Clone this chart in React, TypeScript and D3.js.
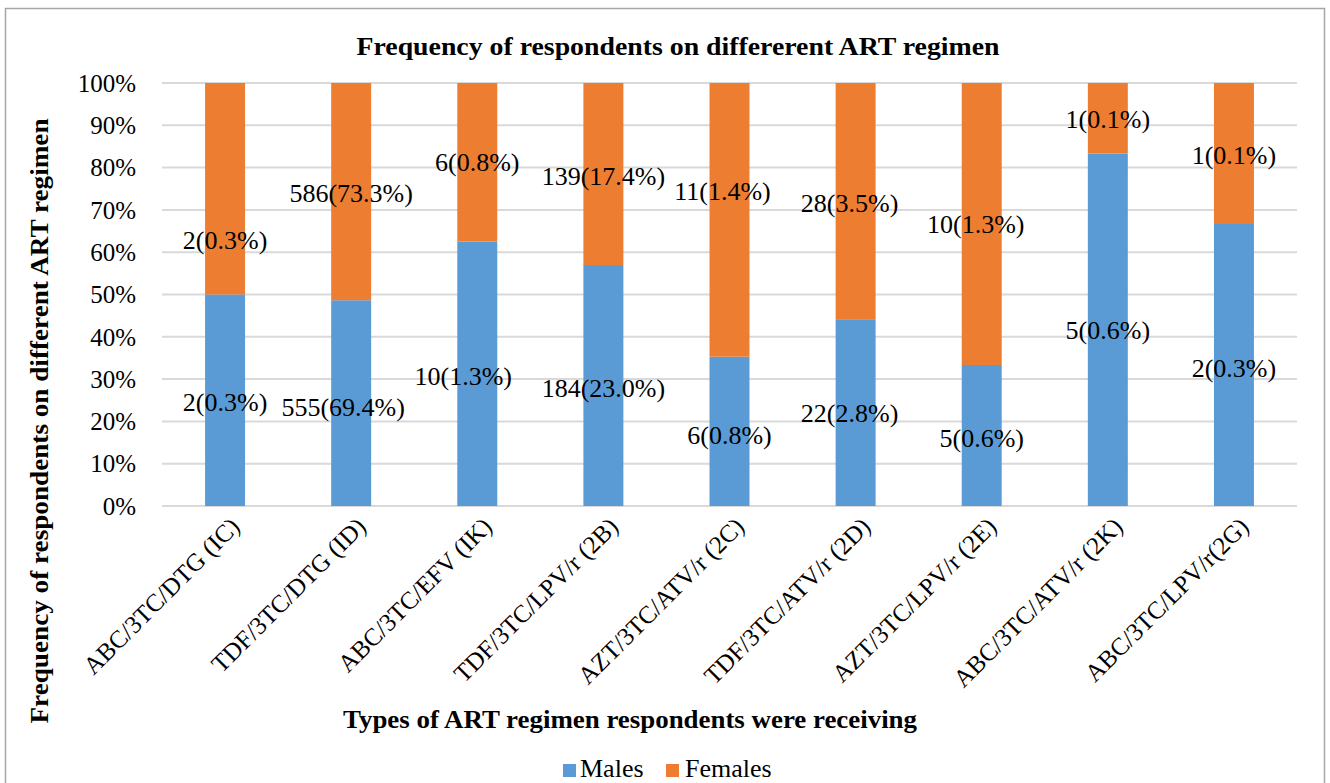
import React from "react";
import * as d3 from "d3";

const categories = [
  "ABC/3TC/DTG (IC)",
  "TDF/3TC/DTG (ID)",
  "ABC/3TC/EFV (IK)",
  "TDF/3TC/LPV/r (2B)",
  "AZT/3TC/ATV/r (2C)",
  "TDF/3TC/ATV/r (2D)",
  "AZT/3TC/LPV/r (2E)",
  "ABC/3TC/ATV/r (2K)",
  "ABC/3TC/LPV/r(2G)",
];
const maleCounts = [2, 555, 10, 184, 6, 22, 5, 5, 2];
const malePct = ["0.3", "69.4", "1.3", "23.0", "0.8", "2.8", "0.6", "0.6", "0.3"];
const femaleCounts = [2, 586, 6, 139, 11, 28, 10, 1, 1];
const femalePct = ["0.3", "73.3", "0.8", "17.4", "1.4", "3.5", "1.3", "0.1", "0.1"];
const yTicks = [0, 0.1, 0.2, 0.3, 0.4, 0.5, 0.6, 0.7, 0.8, 0.9, 1.0];

// manual label nudges (layout only), in px
const maleNudgeX = [0, -8, -14, 0, 0, -6, 0, 0, 0];
const maleNudgeY = [2, 4, 2, 2, 4, 0, 2, 0, 3];
const femaleNudgeX = [0, 0, 0, 0, -7, -6, -6, 0, 0];
const femaleNudgeY = [51, 1, 0, 2, -29, 1, 0, 1, 1];

const W = 1330;
const H = 783;
const left = 162;
const right = 1297;
const top = 83;
const bottom = 506;
const BLUE = "#5B9BD5";
const ORANGE = "#ED7D31";
const FONT = "'Liberation Serif', 'Times New Roman', serif";

export default function App() {
  const x = d3
    .scaleBand<string>()
    .domain(categories)
    .range([left, right])
    .paddingInner(0.683)
    .paddingOuter(0.3415);
  const y = d3.scaleLinear().domain([0, 1]).range([bottom, top]);

  const rows = categories.map((c, i) => ({
    cat: c,
    males: maleCounts[i],
    females: femaleCounts[i],
  }));
  const stack = d3
    .stack<any>()
    .keys(["males", "females"])
    .offset(d3.stackOffsetExpand);
  const series = stack(rows);
  const colors = [BLUE, ORANGE];

  return (
    <svg
      width={W}
      height={H}
      style={{ position: "absolute", left: 0, top: 0, background: "#fff" }}
      fontFamily={FONT}
    >
      <rect x={0} y={0} width={W} height={H} fill="#fff" />
      <rect x={5.5} y={8.5} width={1319} height={790} fill="none" stroke="#a6a6a6" strokeWidth={1.5} />
      <text
        x={678}
        y={55}
        textAnchor="middle"
        fontSize={26}
        fontWeight="bold"
        textLength={643}
        lengthAdjust="spacingAndGlyphs"
      >
        Frequency of respondents on differerent ART regimen
      </text>

      {yTicks.map((t) => (
        <g key={t}>
          <line x1={left} x2={right} y1={y(t)} y2={y(t)} stroke="#d9d9d9" strokeWidth={2} />
          <text x={136} y={y(t)} dy="0.35em" textAnchor="end" fontSize={25}>
            {d3.format(".0%")(t)}
          </text>
        </g>
      ))}

      {series.map((s, si) =>
        s.map((d, i) => (
          <rect
            key={`${si}-${i}`}
            x={x(categories[i])!}
            width={x.bandwidth()}
            y={y(d[1])}
            height={y(d[0]) - y(d[1])}
            fill={colors[si]}
          />
        ))
      )}

      {series.map((s, si) =>
        s.map((d, i) => {
          const cx = x(categories[i])! + x.bandwidth() / 2;
          const cy = (y(d[0]) + y(d[1])) / 2;
          const isMale = si === 0;
          const label = isMale
            ? `${maleCounts[i]}(${malePct[i]}%)`
            : `${femaleCounts[i]}(${femalePct[i]}%)`;
          const nx = isMale ? maleNudgeX[i] : femaleNudgeX[i];
          const ny = isMale ? maleNudgeY[i] : femaleNudgeY[i];
          return (
            <text
              key={`l${si}-${i}`}
              x={cx + nx}
              y={cy + ny}
              dy="0.35em"
              textAnchor="middle"
              fontSize={26}
            >
              {label}
            </text>
          );
        })
      )}

      {categories.map((c) => {
        const cx = x(c)! + x.bandwidth() / 2 + 10;
        const cy = 522;
        return (
          <text
            key={c}
            transform={`translate(${cx},${cy}) rotate(-45)`}
            textAnchor="end"
            dy="0.35em"
            fontSize={25}
          >
            {c}
          </text>
        );
      })}

      <text
        x={630}
        y={728}
        textAnchor="middle"
        fontSize={26}
        fontWeight="bold"
        textLength={574}
        lengthAdjust="spacingAndGlyphs"
      >
        Types of ART regimen respondents were receiving
      </text>

      <text
        transform={`translate(48,${421}) rotate(-90)`}
        textAnchor="middle"
        fontSize={26}
        fontWeight="bold"
        textLength={605}
        lengthAdjust="spacingAndGlyphs"
      >
        Frequency of respondents on different ART regimen
      </text>

      <g>
        <rect x={563} y={764} width={13} height={13} fill={BLUE} />
        <text x={580} y={777} fontSize={26}>Males</text>
        <rect x={666} y={764} width={13} height={13} fill={ORANGE} />
        <text x={685} y={777} fontSize={26}>Females</text>
      </g>
    </svg>
  );
}
